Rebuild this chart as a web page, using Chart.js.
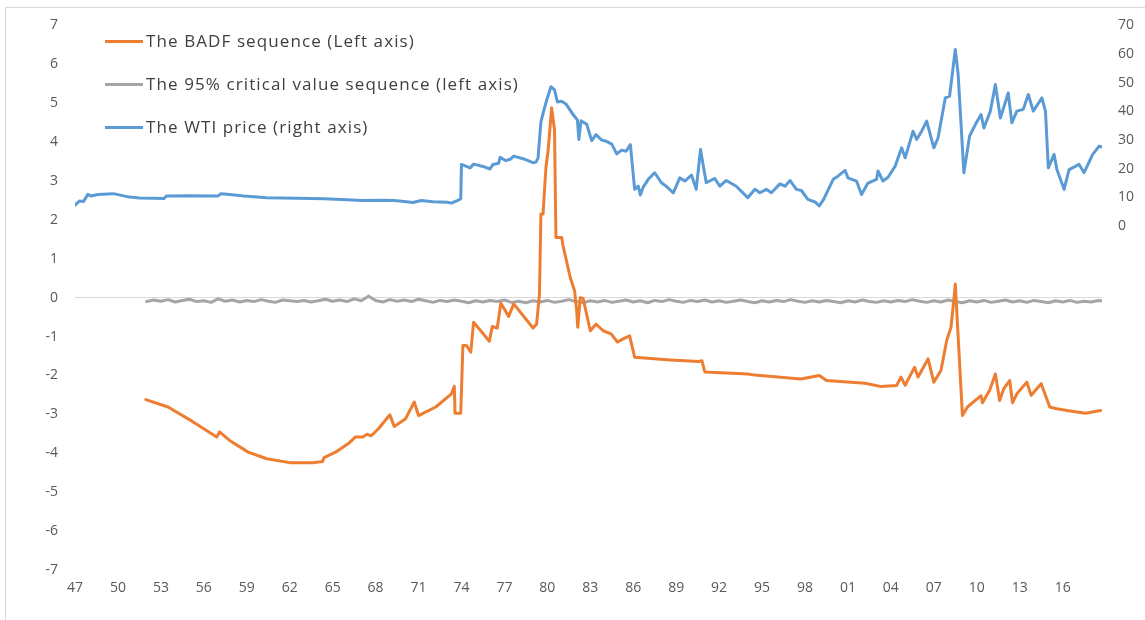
<!DOCTYPE html>
<html>
<head>
<meta charset="utf-8">
<script src="https://cdn.jsdelivr.net/npm/chart.js@4.4.1/dist/chart.umd.min.js"></script>
<style>
  body { margin: 0; background: #fff; }
  #wrap { position: relative; width: 1145px; height: 620px; overflow: hidden; }
  #frame { position: absolute; left: 5px; top: 7px; right: -2px; bottom: -2px;
           border-top: 1px solid #d9d9d9; border-left: 1px solid #d9d9d9; }
  #chart { position: absolute; left: 0; top: 0; }
  #legend { position: absolute; left: 105px; top: 0; font-family: "Open Sans", sans-serif;
            font-size: 17px; letter-spacing: 1.1px; color: #404040; }
  .item { position: absolute; left: 0; white-space: nowrap; height: 24px; line-height: 24px; }
  .swatch { display: inline-block; width: 38px; height: 3px; vertical-align: middle;
            margin-right: 3px; position: relative; top: -1px; }
</style>
</head>
<body>
<div id="wrap">
  <div id="frame"></div>
  <canvas id="chart" width="1145" height="620"></canvas>
  <div id="legend"></div>
</div>
<script>
// tick years for the bottom axis, shown as two digits
const tickYears = [1947, 1950, 1953, 1956, 1959, 1962, 1965, 1968, 1971, 1974, 1977, 1980,
    1983, 1986, 1989, 1992, 1995, 1998, 2001, 2004, 2007, 2010, 2013, 2016]

// BADF sequence (left axis)
const badfYears = [1951.95, 1953.5, 1955.2, 1956.9, 1957.1, 1957.8, 1959.1, 1960.4, 1962.0, 1963.6,
    1964.3, 1964.4, 1965.2, 1966.1, 1966.6, 1967.1, 1967.4, 1967.7, 1968.2, 1969.0,
    1969.3, 1970.1, 1970.7, 1971.0, 1972.2, 1973.3, 1973.5, 1973.55, 1973.95, 1974.1,
    1974.35, 1974.65, 1974.85, 1975.95, 1976.15, 1976.5, 1976.75, 1977.3, 1977.65, 1979.0,
    1979.25, 1979.45, 1979.55, 1979.7, 1979.9, 1980.05, 1980.3, 1980.5, 1980.6, 1981.0,
    1981.1, 1981.6, 1981.9, 1982.05, 1982.12, 1982.3, 1982.5, 1983.0, 1983.4, 1983.9,
    1984.45, 1984.9, 1985.3, 1985.75, 1986.1, 1988.6, 1990.6, 1990.8, 1991.0, 1994.0,
    1994.5, 1997.7, 1999.0, 1999.5, 2002.2, 2003.25, 2004.4, 2004.7, 2005.0, 2005.65,
    2005.9, 2006.6, 2007.0, 2007.5, 2007.9, 2008.2, 2008.4, 2008.5, 2009.0, 2009.35,
    2009.9, 2010.3, 2010.4, 2010.9, 2011.3, 2011.6, 2011.9, 2012.3, 2012.5, 2012.8,
    2013.5, 2013.8, 2014.5, 2015.1, 2015.5, 2016.3, 2017.6, 2018.65]
const badfValues = [-2.62, -2.81, -3.18, -3.58, -3.45, -3.67, -3.97, -4.14, -4.24, -4.24,
    -4.21, -4.11, -3.97, -3.75, -3.58, -3.58, -3.51, -3.55, -3.37, -3.01,
    -3.31, -3.11, -2.68, -3.03, -2.81, -2.47, -2.28, -2.97, -2.97, -1.23,
    -1.23, -1.40, -0.63, -1.12, -0.74, -0.78, -0.14, -0.48, -0.16, -0.78,
    -0.68, 0.10, 2.15, 2.15, 3.34, 3.77, 4.88, 4.32, 1.55, 1.55,
    1.33, 0.52, 0.18, -0.33, -0.76, 0.00, -0.02, -0.85, -0.68, -0.85,
    -0.93, -1.14, -1.06, -0.98, -1.53, -1.60, -1.64, -1.62, -1.91, -1.96,
    -1.99, -2.09, -2.00, -2.13, -2.20, -2.28, -2.26, -2.04, -2.25, -1.79,
    -2.04, -1.57, -2.17, -1.87, -1.10, -0.76, -0.05, 0.35, -3.03, -2.81,
    -2.64, -2.52, -2.70, -2.38, -1.96, -2.64, -2.33, -2.13, -2.70, -2.47,
    -2.17, -2.51, -2.21, -2.81, -2.85, -2.90, -2.97, -2.90]

// 95% critical value sequence (left axis)
const cvYears = [1952.0, 1952.5, 1953.0, 1953.5, 1954.0, 1954.5, 1955.0, 1955.5, 1956.0, 1956.5,
    1957.0, 1957.5, 1958.0, 1958.5, 1959.0, 1959.5, 1960.0, 1960.5, 1961.0, 1961.5,
    1962.0, 1962.5, 1963.0, 1963.5, 1964.0, 1964.5, 1965.0, 1965.5, 1966.0, 1966.5,
    1967.0, 1967.5, 1968.0, 1968.5, 1969.0, 1969.5, 1970.0, 1970.5, 1971.0, 1971.5,
    1972.0, 1972.5, 1973.0, 1973.5, 1974.0, 1974.5, 1975.0, 1975.5, 1976.0, 1976.5,
    1977.0, 1977.5, 1978.0, 1978.5, 1979.0, 1979.5, 1980.0, 1980.5, 1981.0, 1981.5,
    1982.0, 1982.5, 1983.0, 1983.5, 1984.0, 1984.5, 1985.0, 1985.5, 1986.0, 1986.5,
    1987.0, 1987.5, 1988.0, 1988.5, 1989.0, 1989.5, 1990.0, 1990.5, 1991.0, 1991.5,
    1992.0, 1992.5, 1993.0, 1993.5, 1994.0, 1994.5, 1995.0, 1995.5, 1996.0, 1996.5,
    1997.0, 1997.5, 1998.0, 1998.5, 1999.0, 1999.5, 2000.0, 2000.5, 2001.0, 2001.5,
    2002.0, 2002.5, 2003.0, 2003.5, 2004.0, 2004.5, 2005.0, 2005.5, 2006.0, 2006.5,
    2007.0, 2007.5, 2008.0, 2008.5, 2009.0, 2009.5, 2010.0, 2010.5, 2011.0, 2011.5,
    2012.0, 2012.5, 2013.0, 2013.5, 2014.0, 2014.5, 2015.0, 2015.5, 2016.0, 2016.5,
    2017.0, 2017.5, 2018.0, 2018.5, 2018.7]
const cvValues = [-0.10, -0.06, -0.09, -0.05, -0.11, -0.07, -0.04, -0.10, -0.08, -0.12,
    -0.03, -0.09, -0.06, -0.11, -0.07, -0.10, -0.05, -0.09, -0.12, -0.06,
    -0.08, -0.10, -0.07, -0.11, -0.08, -0.04, -0.09, -0.06, -0.10, -0.03,
    -0.08, 0.04, -0.07, -0.11, -0.05, -0.09, -0.06, -0.10, -0.04, -0.08,
    -0.12, -0.07, -0.10, -0.06, -0.09, -0.13, -0.08, -0.11, -0.07, -0.10,
    -0.06, -0.12, -0.09, -0.13, -0.08, -0.11, -0.07, -0.12, -0.09, -0.05,
    -0.10, -0.13, -0.08, -0.11, -0.07, -0.12, -0.09, -0.06, -0.11, -0.08,
    -0.13, -0.07, -0.10, -0.05, -0.09, -0.12, -0.07, -0.10, -0.06, -0.11,
    -0.08, -0.12, -0.09, -0.06, -0.10, -0.13, -0.08, -0.11, -0.07, -0.10,
    -0.05, -0.09, -0.12, -0.08, -0.11, -0.07, -0.10, -0.13, -0.08, -0.11,
    -0.06, -0.10, -0.12, -0.08, -0.11, -0.07, -0.10, -0.05, -0.09, -0.12,
    -0.08, -0.11, -0.06, -0.10, -0.13, -0.08, -0.11, -0.07, -0.12, -0.09,
    -0.06, -0.11, -0.08, -0.12, -0.07, -0.10, -0.13, -0.08, -0.11, -0.07,
    -0.12, -0.09, -0.11, -0.07, -0.08]

// WTI price (right axis)
const wtiYears = [1947.0, 1947.3, 1947.6, 1947.9, 1948.1, 1948.6, 1949.7, 1950.8, 1951.5, 1952.5,
    1953.2, 1953.4, 1955.0, 1957.0, 1957.2, 1957.8, 1958.8, 1960.4, 1962.5, 1964.4,
    1966.0, 1967.1, 1968.5, 1969.3, 1970.0, 1970.6, 1971.2, 1972.0, 1973.0, 1973.3,
    1973.7, 1973.95, 1974.0, 1974.6, 1974.85, 1975.5, 1976.0, 1976.2, 1976.6, 1976.7,
    1977.1, 1977.4, 1977.65, 1978.3, 1979.0, 1979.2, 1979.35, 1979.55, 1979.8, 1980.0,
    1980.25, 1980.5, 1980.7, 1981.0, 1981.3, 1981.8, 1982.1, 1982.2, 1982.35, 1982.75,
    1983.1, 1983.4, 1983.8, 1984.1, 1984.5, 1984.85, 1985.2, 1985.5, 1985.8, 1986.1,
    1986.35, 1986.5, 1986.7, 1987.05, 1987.5, 1987.97, 1988.3, 1988.8, 1989.25, 1989.6,
    1990.07, 1990.4, 1990.7, 1991.1, 1991.7, 1992.05, 1992.5, 1993.2, 1994.0, 1994.5,
    1994.85, 1995.3, 1995.65, 1996.25, 1996.6, 1996.95, 1997.4, 1997.75, 1998.2, 1998.7,
    1999.0, 1999.3, 1999.97, 2000.3, 2000.8, 2001.0, 2001.6, 2001.95, 2002.4, 2003.0,
    2003.1, 2003.45, 2003.8, 2004.3, 2004.75, 2005.0, 2005.55, 2005.8, 2006.15, 2006.5,
    2007.0, 2007.3, 2007.8, 2008.1, 2008.5, 2008.7, 2009.1, 2009.5, 2009.9, 2010.3,
    2010.5, 2010.95, 2011.3, 2011.65, 2012.2, 2012.45, 2012.8, 2013.25, 2013.6, 2013.95,
    2014.55, 2014.8, 2015.0, 2015.4, 2015.6, 2016.1, 2016.45, 2017.15, 2017.5, 2018.1,
    2018.55, 2018.75]
const wtiValues = [7.3, 8.7, 8.6, 11.1, 10.5, 11.0, 11.3, 10.1, 9.8, 9.7,
    9.6, 10.5, 10.6, 10.5, 11.3, 11.0, 10.5, 9.9, 9.7, 9.5,
    9.2, 8.9, 9.0, 8.9, 8.6, 8.2, 8.9, 8.5, 8.3, 8.0,
    8.9, 9.5, 21.5, 20.3, 21.6, 20.8, 19.9, 21.5, 21.9, 24.0,
    22.8, 23.3, 24.4, 23.5, 22.1, 22.3, 23.7, 36.3, 41.2, 44.7,
    48.6, 47.5, 43.3, 43.5, 42.6, 38.9, 37.0, 30.2, 36.7, 35.5,
    29.8, 31.9, 30.0, 29.6, 28.6, 25.2, 26.5, 26.1, 28.4, 12.8,
    13.9, 10.8, 13.6, 16.3, 18.6, 15.1, 13.9, 11.6, 16.8, 15.7,
    17.8, 12.8, 26.7, 15.1, 16.6, 13.9, 15.9, 13.9, 9.9, 12.8,
    11.6, 12.8, 11.6, 14.7, 13.9, 15.9, 12.8, 12.4, 9.3, 8.4,
    7.0, 9.3, 16.3, 17.4, 19.4, 16.8, 15.7, 11.0, 15.0, 16.3,
    19.2, 15.7, 17.0, 20.9, 27.3, 23.8, 33.1, 30.2, 33.1, 36.6,
    27.3, 30.8, 44.7, 45.3, 61.6, 52.9, 18.6, 31.4, 35.4, 38.9,
    34.2, 40.1, 49.4, 37.7, 46.4, 36.0, 40.1, 40.7, 45.9, 40.1,
    44.7, 40.1, 20.3, 25.0, 19.7, 12.8, 19.7, 21.5, 18.6, 25.0,
    27.9, 27.5]

function points(xs, ys) {
    return xs.map((x, i) => ({ x: x, y: ys[i] }))
}

const tickFont = { family: '"Open Sans", sans-serif', size: 14 }
const tickColor = '#595959'

let chart = new Chart(document.getElementById('chart').getContext('2d'), {
    type: 'line',
    data: {
        datasets: [{
            label: 'The BADF sequence (Left axis)',
            data: points(badfYears, badfValues),
            borderColor: '#ED7D31',
            backgroundColor: '#ED7D31',
            borderWidth: 3,
            yAxisID: 'y',
            order: 2
        }, {
            label: 'The 95% critical value sequence (left axis)',
            data: points(cvYears, cvValues),
            borderColor: '#A5A5A5',
            backgroundColor: '#A5A5A5',
            borderWidth: 3,
            yAxisID: 'y',
            order: 3
        }, {
            label: 'The WTI price (right axis)',
            data: points(wtiYears, wtiValues),
            borderColor: '#5B9BD5',
            backgroundColor: '#5B9BD5',
            borderWidth: 3,
            yAxisID: 'y2',
            order: 1
        }]
    },
    options: {
        responsive: false,
        animation: false,
        layout: { padding: { top: 24, left: 0, right: 0, bottom: 0 } },
        elements: {
            point: { radius: 0 },
            line: { tension: 0, borderJoinStyle: 'round', borderCapStyle: 'round' }
        },
        plugins: { legend: { display: false }, tooltip: { enabled: false } },
        scales: {
            x: {
                type: 'linear',
                min: 1947,
                max: 2018.75,
                afterBuildTicks: (axis) => { axis.ticks = tickYears.map(v => ({ value: v })) },
                afterFit: (axis) => { axis.height = 50 },
                grid: { display: false, drawTicks: false },
                border: { display: false },
                ticks: {
                    autoSkip: false, maxRotation: 0, padding: 10,
                    color: tickColor, font: tickFont,
                    callback: (v) => String(v % 100).padStart(2, '0')
                }
            },
            y: {
                position: 'left',
                min: -7,
                max: 7,
                afterFit: (axis) => { axis.width = 75 },
                grid: {
                    drawTicks: false,
                    color: (ctx) => ctx.tick && ctx.tick.value === 0 ? '#d9d9d9' : 'rgba(0,0,0,0)'
                },
                border: { display: false },
                ticks: { stepSize: 1, padding: 17, color: tickColor, font: tickFont }
            },
            y2: {
                position: 'right',
                min: -120,
                max: 70,
                afterFit: (axis) => { axis.width = 43 },
                grid: { display: false, drawTicks: false },
                border: { display: false },
                ticks: {
                    stepSize: 10, padding: 16, color: tickColor, font: tickFont,
                    callback: (v) => v >= 0 ? String(v) : ''
                }
            }
        }
    }
})

// legend, stacked inside the plot area
let legend = document.getElementById('legend')
const rowTops = [29, 72, 115]
chart.data.datasets.forEach((ds, i) => {
    let item = document.createElement('div')
    item.setAttribute('class', 'item')
    item.style.top = rowTops[i] + 'px'
    let sw = document.createElement('span')
    sw.setAttribute('class', 'swatch')
    sw.style.background = ds.borderColor
    item.appendChild(sw)
    item.appendChild(document.createTextNode(ds.label))
    legend.appendChild(item)
})
</script>
</body>
</html>
